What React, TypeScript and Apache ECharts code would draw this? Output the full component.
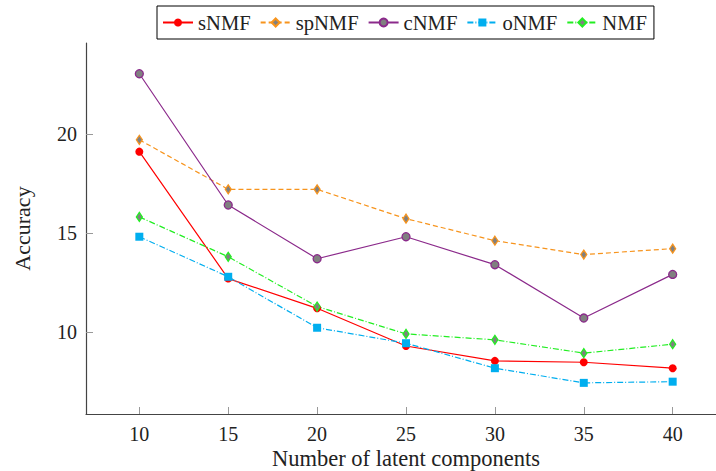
import React, { useEffect, useRef } from "react";
import * as echarts from "echarts";

const components = [10, 15, 20, 25, 30, 35, 40];
const sNMF = [19.1, 12.7, 11.2, 9.3, 8.55, 8.48, 8.18];
const spNMF = [19.7, 17.2, 17.2, 15.72, 14.61, 13.91, 14.21];
const cNMF = [23.03, 16.41, 13.7, 14.81, 13.4, 10.71, 12.91];
const oNMF = [14.81, 12.79, 10.22, 9.44, 8.18, 7.44, 7.5];
const NMF = [15.81, 13.8, 11.29, 9.91, 9.61, 8.94, 9.39];
const xTicks = [10, 15, 20, 25, 30, 35, 40];
const yTicks = [10, 15, 20];

const FONT = "Liberation Serif, serif";

const pairs = (ys: number[]) => components.map((x, i) => [x, ys[i]]);

export default function App() {
  const ref = useRef<HTMLDivElement>(null);
  useEffect(() => {
    if (!ref.current) return;
    const chart = echarts.init(ref.current, undefined, { renderer: "svg" });
    const axisColor = "#444";
    chart.setOption({
      animation: false,
      backgroundColor: "#fff",
      textStyle: { fontFamily: FONT },
      legend: {
        left: 157,
        top: 6,
        padding: [6, 7, 6, 5],
        itemWidth: 30,
        itemHeight: 10,
        itemGap: 9,
        borderColor: "#000",
        borderWidth: 1,
        textStyle: { fontFamily: FONT, fontSize: 20.6, color: "#222" },
        data: ["sNMF", "spNMF", "cNMF", "oNMF", "NMF"],
      },
      grid: { left: 86, top: 43, bottom: 57, right: -10, containLabel: false, outerBoundsMode: "none" },
      xAxis: {
        type: "value",
        min: 7,
        max: 43,
        name: "Number of latent components",
        nameLocation: "middle",
        nameGap: 33,
        nameMoveOverlap: false,
        nameTextStyle: { fontFamily: FONT, fontSize: 22.5, color: "#222" },
        axisLine: { show: true, lineStyle: { color: axisColor, width: 1.2 } },
        axisTick: { show: true, inside: true, length: 7, customValues: xTicks, lineStyle: { color: "#999" } },
        axisLabel: { customValues: xTicks, fontFamily: FONT, fontSize: 20, color: "#222", margin: 10 },
        splitLine: { show: false },
      },
      yAxis: {
        type: "value",
        min: 5.87,
        max: 24.58,
        name: "Accuracy",
        nameLocation: "middle",
        nameRotate: 90,
        nameGap: 53,
        nameMoveOverlap: false,
        nameTextStyle: { fontFamily: FONT, fontSize: 22, color: "#222" },
        axisLine: { show: true, lineStyle: { color: axisColor, width: 1.2 } },
        axisTick: { show: true, inside: true, length: 7, customValues: yTicks, lineStyle: { color: "#999" } },
        axisLabel: { customValues: yTicks, fontFamily: FONT, fontSize: 20, color: "#222", margin: 9 },
        splitLine: { show: false },
      },
      series: [
        {
          name: "sNMF",
          type: "line",
          data: pairs(sNMF),
          symbol: "circle",
          symbolSize: 8,
          itemStyle: { color: "#ff0000" },
          lineStyle: { color: "#ff0000", width: 1.2, type: "solid" },
        },
        {
          name: "spNMF",
          type: "line",
          data: pairs(spNMF),
          symbol: "diamond",
          symbolSize: [6, 9],
          itemStyle: { color: "#808080", borderColor: "#f7941d", borderWidth: 1.3 },
          lineStyle: { color: "#f7941d", width: 1.2, type: [5, 3] },
        },
        {
          name: "cNMF",
          type: "line",
          data: pairs(cNMF),
          symbol: "circle",
          symbolSize: 8,
          itemStyle: { color: "#808080", borderColor: "#8b2a8b", borderWidth: 1.3 },
          lineStyle: { color: "#8b2a8b", width: 1.2, type: "solid" },
        },
        {
          name: "oNMF",
          type: "line",
          data: pairs(oNMF),
          symbol: "rect",
          symbolSize: 8,
          itemStyle: { color: "#00aeef" },
          lineStyle: { color: "#00aeef", width: 1.2, type: [6, 2, 1, 2] },
        },
        {
          name: "NMF",
          type: "line",
          data: pairs(NMF),
          symbol: "diamond",
          symbolSize: [6, 9],
          itemStyle: { color: "#808080", borderColor: "#22ee22", borderWidth: 1.3 },
          lineStyle: { color: "#22ee22", width: 1.2, type: [6, 2, 1, 2] },
        },
      ],
    });
    return () => chart.dispose();
  }, []);
  return <div ref={ref} style={{ width: 716, height: 471, position: "absolute", left: 0, top: 0 }} />;
}
